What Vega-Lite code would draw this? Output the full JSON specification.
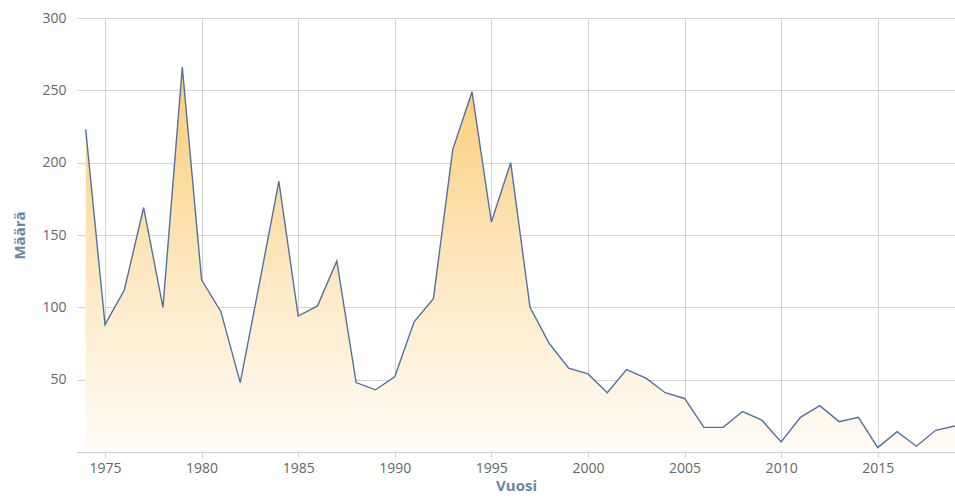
{
  "$schema": "https://vega.github.io/schema/vega-lite/v6.json",
  "autosize": "none",
  "width": 878,
  "height": 434,
  "padding": {"left": 77, "top": 18, "right": 0, "bottom": 46},
  "background": "white",
  "config": {
    "view": {"stroke": null},
    "font": "Open Sans"
  },
  "data": {
    "values": [
      {"Vuosi": 1974, "Maara": 223},
      {"Vuosi": 1975, "Maara": 88},
      {"Vuosi": 1976, "Maara": 112},
      {"Vuosi": 1977, "Maara": 169},
      {"Vuosi": 1978, "Maara": 100},
      {"Vuosi": 1979, "Maara": 266},
      {"Vuosi": 1980, "Maara": 119},
      {"Vuosi": 1981, "Maara": 97},
      {"Vuosi": 1982, "Maara": 48},
      {"Vuosi": 1983, "Maara": 117},
      {"Vuosi": 1984, "Maara": 187},
      {"Vuosi": 1985, "Maara": 94},
      {"Vuosi": 1986, "Maara": 101},
      {"Vuosi": 1987, "Maara": 132},
      {"Vuosi": 1988, "Maara": 48},
      {"Vuosi": 1989, "Maara": 43},
      {"Vuosi": 1990, "Maara": 52},
      {"Vuosi": 1991, "Maara": 90},
      {"Vuosi": 1992, "Maara": 106},
      {"Vuosi": 1993, "Maara": 209},
      {"Vuosi": 1994, "Maara": 249},
      {"Vuosi": 1995, "Maara": 159},
      {"Vuosi": 1996, "Maara": 200},
      {"Vuosi": 1997, "Maara": 100},
      {"Vuosi": 1998, "Maara": 75},
      {"Vuosi": 1999, "Maara": 58},
      {"Vuosi": 2000, "Maara": 54},
      {"Vuosi": 2001, "Maara": 41},
      {"Vuosi": 2002, "Maara": 57},
      {"Vuosi": 2003, "Maara": 51},
      {"Vuosi": 2004, "Maara": 41},
      {"Vuosi": 2005, "Maara": 37},
      {"Vuosi": 2006, "Maara": 17},
      {"Vuosi": 2007, "Maara": 17},
      {"Vuosi": 2008, "Maara": 28},
      {"Vuosi": 2009, "Maara": 22},
      {"Vuosi": 2010, "Maara": 7},
      {"Vuosi": 2011, "Maara": 24},
      {"Vuosi": 2012, "Maara": 32},
      {"Vuosi": 2013, "Maara": 21},
      {"Vuosi": 2014, "Maara": 24},
      {"Vuosi": 2015, "Maara": 3},
      {"Vuosi": 2016, "Maara": 14},
      {"Vuosi": 2017, "Maara": 4},
      {"Vuosi": 2018, "Maara": 15},
      {"Vuosi": 2019, "Maara": 18}
    ]
  },
  "encoding": {
    "x": {
      "field": "Vuosi",
      "type": "quantitative",
      "scale": {"domain": [1973.55, 2019], "nice": false, "zero": false},
      "axis": {
        "title": "Vuosi",
        "values": [1975, 1980, 1985, 1990, 1995, 2000, 2005, 2010, 2015],
        "format": "d",
        "grid": true,
        "gridColor": "#d3d3d3",
        "gridWidth": 1,
        "domainColor": "#c0d0e0",
        "tickColor": "#d3d3d3",
        "tickSize": 6,
        "labelPadding": 3,
        "labelFontSize": 14,
        "labelColor": "#666666",
        "labelFont": "Open Sans",
        "titleFontSize": 15,
        "titleFontWeight": "bold",
        "titleColor": "#6a86a6",
        "titlePadding": 3,
        "titleFont": "Open Sans"
      }
    },
    "y": {
      "field": "Maara",
      "type": "quantitative",
      "scale": {"domain": [0, 300], "nice": false},
      "axis": {
        "title": "Määrä",
        "values": [0, 50, 100, 150, 200, 250, 300],
        "labelExpr": "datum.value == 0 ? '' : datum.label",
        "grid": true,
        "gridColor": "#d3d3d3",
        "gridWidth": 1,
        "domain": false,
        "ticks": false,
        "labelPadding": 11,
        "labelFontSize": 14,
        "labelColor": "#666666",
        "labelFont": "Open Sans",
        "titleFontSize": 15,
        "titleFontWeight": "bold",
        "titleColor": "#6a86a6",
        "titlePadding": 14,
        "titleFont": "Open Sans"
      }
    }
  },
  "layer": [
    {
      "mark": {
        "type": "area",
        "fill": {
          "gradient": "linear",
          "x1": 0, "y1": 0, "x2": 0, "y2": 1,
          "stops": [
            {"offset": 0, "color": "#fccb72"},
            {"offset": 0.5, "color": "#fde6bd"},
            {"offset": 1, "color": "#fffcf7"}
          ]
        },
        "opacity": 1
      }
    },
    {
      "mark": {"type": "line", "color": "#52719f", "strokeWidth": 1.4}
    }
  ]
}
